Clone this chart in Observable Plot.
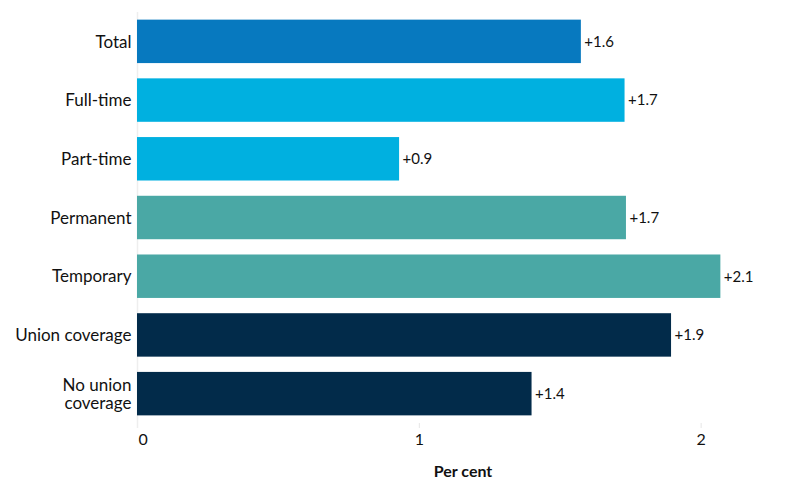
<!DOCTYPE html>
<html>
<head>
<meta charset="utf-8">
<script src="https://cdn.jsdelivr.net/npm/d3@7"></script>
<script src="https://cdn.jsdelivr.net/npm/@observablehq/plot@0.6"></script>
<style>
  body { margin: 0; background: #fff; font-family: Lato, "Open Sans", sans-serif; }
  #chart svg { display: block; }
</style>
</head>
<body>
<div id="chart"></div>
<script>
const categories = ["Total", "Full-time", "Part-time", "Permanent", "Temporary", "Union coverage", "No union coverage"];
const values = [1.575, 1.73, 0.93, 1.735, 2.07, 1.895, 1.40];
const valueLabels = ["+1.6", "+1.7", "+0.9", "+1.7", "+2.1", "+1.9", "+1.4"];
const groups = ["total", "time", "time", "perm", "perm", "union", "union"];
const groupColors = { total: "#0779BF", time: "#00B0E0", perm: "#4AA8A5", union: "#022B4A" };
const xTicks = [0, 1, 2];
const xLabel = "Per cent";

const data = categories.map((c, i) => ({ category: c, value: values[i], label: valueLabels[i], group: groups[i] }));

const tickLabel = d => d === "No union coverage" ? "No union\ncoverage" : d;

const chart = Plot.plot({
  width: 800,
  height: 500,
  marginTop: 12,
  marginBottom: 77,
  marginLeft: 137,
  marginRight: 12,
  style: { fontFamily: "Lato, 'Open Sans', sans-serif", fontSize: "15px", color: "#111" },
  x: { domain: [0, 2.31] },
  y: { domain: categories, paddingInner: 0.26, paddingOuter: 0.13, round: false },
  marks: [
    Plot.ruleX([0], { stroke: "#eeeeee", strokeWidth: 1.5, insetBottom: -5 }),
    Plot.ruleY([0], { stroke: "#eeeeee", strokeWidth: 1.5, frameAnchor: "bottom" }),
    Plot.barX(data, { y: "category", x: "value", fill: d => groupColors[d.group] }),
    Plot.text(data, { y: "category", x: "value", text: "label", textAnchor: "start", dx: 3, fontSize: 15, fill: "#111" }),
    Plot.axisY({ tickSize: 0, tickPadding: 6, tickFormat: tickLabel, fontSize: 17, fill: "#111", lineHeight: 1.06, label: null }),
    Plot.axisX(xTicks.slice(0, 1), { tickSize: 0, textAnchor: "start", dx: 1, tickPadding: 10, tickFormat: d3.format("d"), fontSize: 16, fill: "#111", label: null }),
    Plot.axisX(xTicks.slice(1), { tickSize: 5, stroke: "#e6e6e6", tickPadding: 5, tickFormat: d3.format("d"), fontSize: 16, fill: "#111", label: null }),
    Plot.text([xLabel], { frameAnchor: "bottom", dy: 53, fontWeight: "bold", fontSize: 16, fill: "#111" })
  ]
});
document.getElementById("chart").appendChild(chart);
</script>
</body>
</html>
